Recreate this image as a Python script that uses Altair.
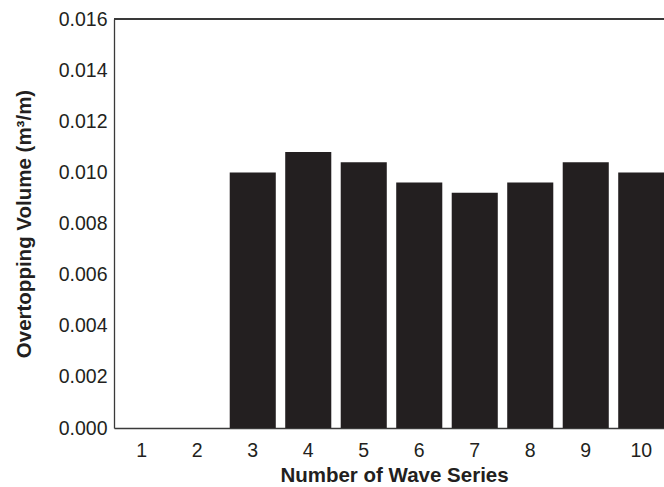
import altair as alt
import pandas as pd

series = [1, 2, 3, 4, 5, 6, 7, 8, 9, 10]
volume = [0.0, 0.0, 0.0100, 0.0108, 0.0104, 0.0096, 0.0092, 0.0096, 0.0104, 0.0100]
y_ticks = [0, 0.002, 0.004, 0.006, 0.008, 0.010, 0.012, 0.014, 0.016]
y_top = 0.016

df = pd.DataFrame({"series": series, "volume": volume})

FONT = "Liberation Sans"
INK = "#231f20"
FRAME = "#3a3a3a"

bars = (
    alt.Chart(df)
    .mark_bar(color=INK)
    .encode(
        x=alt.X(
            "series:O",
            sort=series,
            scale=alt.Scale(paddingInner=0.17, paddingOuter=0.085, range=[0, 555]),
            axis=alt.Axis(
                title="Number of Wave Series",
                labelAngle=0,
                ticks=False,
                domain=True,
                domainColor=FRAME,
                domainWidth=1.3,
                labelPadding=13,
                labelFontSize=19.5,
                labelFont=FONT,
                labelColor=INK,
                titleFont=FONT,
                titleFontSize=20.5,
                titleFontWeight="bold",
                titleColor=INK,
                titleBaseline="alphabetic",
                titleY=53,
                titleX=280,
            ),
        ),
        y=alt.Y(
            "volume:Q",
            scale=alt.Scale(domain=[0, y_top], nice=False),
            axis=alt.Axis(
                title="Overtopping Volume (m³/m)",
                values=y_ticks,
                format=".3f",
                ticks=False,
                domain=True,
                domainColor=FRAME,
                domainWidth=1.3,
                grid=False,
                labelPadding=7,
                labelFontSize=19.5,
                labelFont=FONT,
                labelColor=INK,
                titleFont=FONT,
                titleFontSize=20.5,
                titleFontWeight="bold",
                titleColor=INK,
                titleBaseline="middle",
                titleX=-90,
                titleY=204.5,
            ),
        ),
    )
)

top_line = (
    alt.Chart(df)
    .mark_rule(color=FRAME, strokeWidth=1.3)
    .encode(y=alt.datum(y_top), x=alt.value(0), x2=alt.value(560))
)

chart = (
    alt.layer(bars, top_line)
    .properties(
        width=550,
        height=409,
        autosize=alt.AutoSizeParams(type="none"),
        padding={"left": 114, "top": 19, "right": 0, "bottom": 59},
    )
    .configure_view(stroke=None)
    .configure_axis(grid=False)
)

chart.save("out.html", embed_options={"renderer": "svg", "actions": False})
